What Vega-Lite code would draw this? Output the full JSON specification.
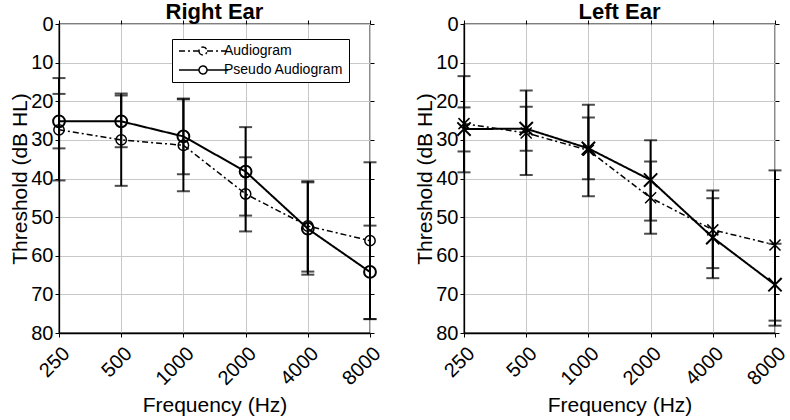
{
  "$schema": "https://vega.github.io/schema/vega-lite/v6.json",
  "padding": {"left": 9, "top": 0, "right": 5, "bottom": 5},
  "background": "white",
  "datasets": {
    "audio": [
      {"ear": "Right", "series": "Audiogram", "freq": 250, "value": 27.4, "lo": 14.0, "hi": 40.5},
      {"ear": "Right", "series": "Audiogram", "freq": 500, "value": 30.0, "lo": 18.0, "hi": 41.9},
      {"ear": "Right", "series": "Audiogram", "freq": 1000, "value": 31.4, "lo": 19.5, "hi": 43.3},
      {"ear": "Right", "series": "Audiogram", "freq": 2000, "value": 44.0, "lo": 34.5, "hi": 53.7},
      {"ear": "Right", "series": "Audiogram", "freq": 4000, "value": 52.3, "lo": 40.7, "hi": 64.1},
      {"ear": "Right", "series": "Audiogram", "freq": 8000, "value": 56.1, "lo": 35.8, "hi": 76.4},
      {"ear": "Right", "series": "Pseudo Audiogram", "freq": 250, "value": 25.2, "lo": 18.1, "hi": 32.2},
      {"ear": "Right", "series": "Pseudo Audiogram", "freq": 500, "value": 25.2, "lo": 18.5, "hi": 31.9},
      {"ear": "Right", "series": "Pseudo Audiogram", "freq": 1000, "value": 29.1, "lo": 19.3, "hi": 38.9},
      {"ear": "Right", "series": "Pseudo Audiogram", "freq": 2000, "value": 38.2, "lo": 26.7, "hi": 49.6},
      {"ear": "Right", "series": "Pseudo Audiogram", "freq": 4000, "value": 53.0, "lo": 41.0, "hi": 64.9},
      {"ear": "Right", "series": "Pseudo Audiogram", "freq": 8000, "value": 64.2, "lo": 52.2, "hi": 76.4},
      {"ear": "Left", "series": "Audiogram", "freq": 250, "value": 25.8, "lo": 13.5, "hi": 38.4},
      {"ear": "Left", "series": "Audiogram", "freq": 500, "value": 28.2, "lo": 17.2, "hi": 39.1},
      {"ear": "Left", "series": "Audiogram", "freq": 1000, "value": 32.7, "lo": 20.9, "hi": 44.6},
      {"ear": "Left", "series": "Audiogram", "freq": 2000, "value": 45.0, "lo": 35.6, "hi": 54.3},
      {"ear": "Left", "series": "Audiogram", "freq": 4000, "value": 53.3, "lo": 43.1, "hi": 63.2},
      {"ear": "Left", "series": "Audiogram", "freq": 8000, "value": 57.2, "lo": 37.9, "hi": 76.8},
      {"ear": "Left", "series": "Pseudo Audiogram", "freq": 250, "value": 27.2, "lo": 21.6, "hi": 33.0},
      {"ear": "Left", "series": "Pseudo Audiogram", "freq": 500, "value": 27.1, "lo": 21.4, "hi": 32.8},
      {"ear": "Left", "series": "Pseudo Audiogram", "freq": 1000, "value": 32.2, "lo": 24.2, "hi": 40.2},
      {"ear": "Left", "series": "Pseudo Audiogram", "freq": 2000, "value": 40.4, "lo": 30.1, "hi": 50.9},
      {"ear": "Left", "series": "Pseudo Audiogram", "freq": 4000, "value": 55.3, "lo": 45.1, "hi": 65.8},
      {"ear": "Left", "series": "Pseudo Audiogram", "freq": 8000, "value": 67.5, "lo": 56.9, "hi": 78.1}
    ]
  },
  "data": {"name": "audio"},
  "spacing": 29,
  "hconcat": [
    {
      "width": 311,
      "height": 309,
      "title": {"text": "Right Ear"},
      "transform": [{"filter": "datum.ear == 'Right'"}],
      "layer": [
        {
          "mark": {"type": "rule", "color": "black", "strokeWidth": 2},
          "encoding": {
            "x": {"field": "freq", "type": "quantitative", "scale": {"type": "log", "domain": [250, 8000], "nice": false},
                  "axis": {"orient": "bottom", "values": [250, 500, 1000, 2000, 4000, 8000], "title": "Frequency (Hz)", "labelAngle": -45, "labelAlign": "right", "labelBaseline": "top", "labelPadding": 6, "titlePadding": 6, "grid": true, "format": "d"}},
            "y": {"field": "lo", "type": "quantitative", "scale": {"domain": [0, 80], "reverse": true, "nice": false},
                  "axis": {"orient": "left", "values": [0, 10, 20, 30, 40, 50, 60, 70, 80], "title": "Threshold (dB HL)", "titlePadding": 0, "grid": true}},
            "y2": {"field": "hi"}
          }
        },
        {
          "mark": {"type": "tick", "orient": "horizontal", "color": "black", "size": 13, "thickness": 2},
          "encoding": {
            "x": {"field": "freq", "type": "quantitative", "scale": {"type": "log", "domain": [250, 8000], "nice": false}, "axis": null},
            "y": {"field": "lo", "type": "quantitative", "scale": {"domain": [0, 80], "reverse": true, "nice": false}, "axis": null}
          }
        },
        {
          "mark": {"type": "tick", "orient": "horizontal", "color": "black", "size": 13, "thickness": 2},
          "encoding": {
            "x": {"field": "freq", "type": "quantitative", "scale": {"type": "log", "domain": [250, 8000], "nice": false},
                  "axis": {"orient": "top", "values": [250, 500, 1000, 2000, 4000, 8000], "labels": false, "domain": false, "grid": false, "title": null}},
            "y": {"field": "hi", "type": "quantitative", "scale": {"domain": [0, 80], "reverse": true, "nice": false},
                  "axis": {"orient": "right", "values": [0, 10, 20, 30, 40, 50, 60, 70, 80], "labels": false, "domain": false, "grid": false, "title": null}}
          }
        },
        {
          "transform": [{"filter": "datum.series == 'Audiogram'"}],
          "mark": {"type": "line", "color": "black", "strokeWidth": 1.5},
          "encoding": {
            "x": {"field": "freq", "type": "quantitative", "scale": {"type": "log", "domain": [250, 8000], "nice": false}, "axis": null},
            "y": {"field": "value", "type": "quantitative", "scale": {"domain": [0, 80], "reverse": true, "nice": false}, "axis": null},
            "strokeDash": {"field": "series", "type": "nominal", "scale": {"domain": ["Audiogram", "Pseudo Audiogram"], "range": [[6, 3, 2, 3], [1, 0]]},
              "legend": {"title": null, "orient": "none", "legendX": 113, "legendY": 15, "strokeColor": "black", "fillColor": "white", "padding": 5, "cornerRadius": 0,
                "symbolType": "M-1,0L3,0M4.6,0L8.8,0M3,0A0.8,0.8,0,1,0,4.6,0A0.8,0.8,0,1,0,3,0",
                "symbolSize": 100, "symbolStrokeWidth": 1.5, "symbolStrokeColor": "black", "symbolFillColor": "transparent",
                "labelOffset": 33, "labelFontSize": 14, "labelColor": "black", "rowPadding": 5}}
          }
        },
        {
          "transform": [{"filter": "datum.series == 'Pseudo Audiogram'"}],
          "mark": {"type": "line", "color": "black", "strokeWidth": 2},
          "encoding": {
            "x": {"field": "freq", "type": "quantitative", "scale": {"type": "log", "domain": [250, 8000], "nice": false}, "axis": null},
            "y": {"field": "value", "type": "quantitative", "scale": {"domain": [0, 80], "reverse": true, "nice": false}, "axis": null},
            "strokeDash": {"field": "series", "type": "nominal", "scale": {"domain": ["Audiogram", "Pseudo Audiogram"], "range": [[6, 3, 2, 3], [1, 0]]}}
          }
        },
        {
          "transform": [{"filter": "datum.series == 'Audiogram'"}],
          "mark": {"type": "point", "shape": "circle", "filled": false, "color": "black", "size": 107, "strokeWidth": 1.5, "opacity": 1},
          "encoding": {
            "x": {"field": "freq", "type": "quantitative", "scale": {"type": "log", "domain": [250, 8000], "nice": false}, "axis": null},
            "y": {"field": "value", "type": "quantitative", "scale": {"domain": [0, 80], "reverse": true, "nice": false}, "axis": null}
          }
        },
        {
          "transform": [{"filter": "datum.series == 'Pseudo Audiogram'"}],
          "mark": {"type": "point", "shape": "circle", "filled": false, "color": "black", "size": 139, "strokeWidth": 2, "opacity": 1},
          "encoding": {
            "x": {"field": "freq", "type": "quantitative", "scale": {"type": "log", "domain": [250, 8000], "nice": false}, "axis": null},
            "y": {"field": "value", "type": "quantitative", "scale": {"domain": [0, 80], "reverse": true, "nice": false}, "axis": null}
          }
        }
      ]
    },
    {
      "width": 311,
      "height": 309,
      "title": {"text": "Left Ear"},
      "transform": [{"filter": "datum.ear == 'Left'"}],
      "layer": [
        {
          "mark": {"type": "rule", "color": "black", "strokeWidth": 2},
          "encoding": {
            "x": {"field": "freq", "type": "quantitative", "scale": {"type": "log", "domain": [250, 8000], "nice": false},
                  "axis": {"orient": "bottom", "values": [250, 500, 1000, 2000, 4000, 8000], "title": "Frequency (Hz)", "labelAngle": -45, "labelAlign": "right", "labelBaseline": "top", "labelPadding": 6, "titlePadding": 6, "grid": true, "format": "d"}},
            "y": {"field": "lo", "type": "quantitative", "scale": {"domain": [0, 80], "reverse": true, "nice": false},
                  "axis": {"orient": "left", "values": [0, 10, 20, 30, 40, 50, 60, 70, 80], "title": "Threshold (dB HL)", "titlePadding": 0, "grid": true}},
            "y2": {"field": "hi"}
          }
        },
        {
          "mark": {"type": "tick", "orient": "horizontal", "color": "black", "size": 13, "thickness": 2},
          "encoding": {
            "x": {"field": "freq", "type": "quantitative", "scale": {"type": "log", "domain": [250, 8000], "nice": false}, "axis": null},
            "y": {"field": "lo", "type": "quantitative", "scale": {"domain": [0, 80], "reverse": true, "nice": false}, "axis": null}
          }
        },
        {
          "mark": {"type": "tick", "orient": "horizontal", "color": "black", "size": 13, "thickness": 2},
          "encoding": {
            "x": {"field": "freq", "type": "quantitative", "scale": {"type": "log", "domain": [250, 8000], "nice": false},
                  "axis": {"orient": "top", "values": [250, 500, 1000, 2000, 4000, 8000], "labels": false, "domain": false, "grid": false, "title": null}},
            "y": {"field": "hi", "type": "quantitative", "scale": {"domain": [0, 80], "reverse": true, "nice": false},
                  "axis": {"orient": "right", "values": [0, 10, 20, 30, 40, 50, 60, 70, 80], "labels": false, "domain": false, "grid": false, "title": null}}
          }
        },
        {
          "transform": [{"filter": "datum.series == 'Audiogram'"}],
          "mark": {"type": "line", "color": "black", "strokeWidth": 1.5},
          "encoding": {
            "x": {"field": "freq", "type": "quantitative", "scale": {"type": "log", "domain": [250, 8000], "nice": false}, "axis": null},
            "y": {"field": "value", "type": "quantitative", "scale": {"domain": [0, 80], "reverse": true, "nice": false}, "axis": null},
            "strokeDash": {"field": "series", "type": "nominal", "scale": {"domain": ["Audiogram", "Pseudo Audiogram"], "range": [[6, 3, 2, 3], [1, 0]]},
              "legend": {"title": null, "orient": "none", "legendX": 517, "legendY": 15, "strokeColor": "black", "fillColor": "white", "padding": 5, "cornerRadius": 0,
                "symbolType": "M-1,0L8.8,0M3.1,-0.7L4.5,0.7M3.1,0.7L4.5,-0.7",
                "symbolSize": 100, "symbolStrokeWidth": 1.5, "symbolStrokeColor": "black", "symbolFillColor": "transparent",
                "labelOffset": 33, "labelFontSize": 14, "labelColor": "black", "rowPadding": 5}}
          }
        },
        {
          "transform": [{"filter": "datum.series == 'Pseudo Audiogram'"}],
          "mark": {"type": "line", "color": "black", "strokeWidth": 2},
          "encoding": {
            "x": {"field": "freq", "type": "quantitative", "scale": {"type": "log", "domain": [250, 8000], "nice": false}, "axis": null},
            "y": {"field": "value", "type": "quantitative", "scale": {"domain": [0, 80], "reverse": true, "nice": false}, "axis": null},
            "strokeDash": {"field": "series", "type": "nominal", "scale": {"domain": ["Audiogram", "Pseudo Audiogram"], "range": [[6, 3, 2, 3], [1, 0]]}}
          }
        },
        {
          "transform": [{"filter": "datum.series == 'Audiogram'"}],
          "mark": {"type": "point", "shape": "M-1,-1L1,1M-1,1L1,-1", "filled": false, "color": "black", "size": 121, "strokeWidth": 1.5, "opacity": 1},
          "encoding": {
            "x": {"field": "freq", "type": "quantitative", "scale": {"type": "log", "domain": [250, 8000], "nice": false}, "axis": null},
            "y": {"field": "value", "type": "quantitative", "scale": {"domain": [0, 80], "reverse": true, "nice": false}, "axis": null}
          }
        },
        {
          "transform": [{"filter": "datum.series == 'Pseudo Audiogram'"}],
          "mark": {"type": "point", "shape": "M-1,-1L1,1M-1,1L1,-1", "filled": false, "color": "black", "size": 177, "strokeWidth": 2, "opacity": 1},
          "encoding": {
            "x": {"field": "freq", "type": "quantitative", "scale": {"type": "log", "domain": [250, 8000], "nice": false}, "axis": null},
            "y": {"field": "value", "type": "quantitative", "scale": {"domain": [0, 80], "reverse": true, "nice": false}, "axis": null}
          }
        }
      ]
    }
  ],
  "config": {
    "font": "Liberation Sans",
    "view": {"stroke": "black", "strokeWidth": 1.3},
    "axis": {"labelFontSize": 20, "titleFontSize": 21, "titleFontWeight": "normal", "labelColor": "black", "titleColor": "black",
             "tickColor": "black", "domainColor": "black", "domainWidth": 1.3, "gridColor": "#c8c8c8", "gridWidth": 1, "tickSize": 4, "labelPadding": 2},
    "title": {"fontSize": 22, "fontWeight": "bold", "offset": -10, "color": "black"}
  }
}
